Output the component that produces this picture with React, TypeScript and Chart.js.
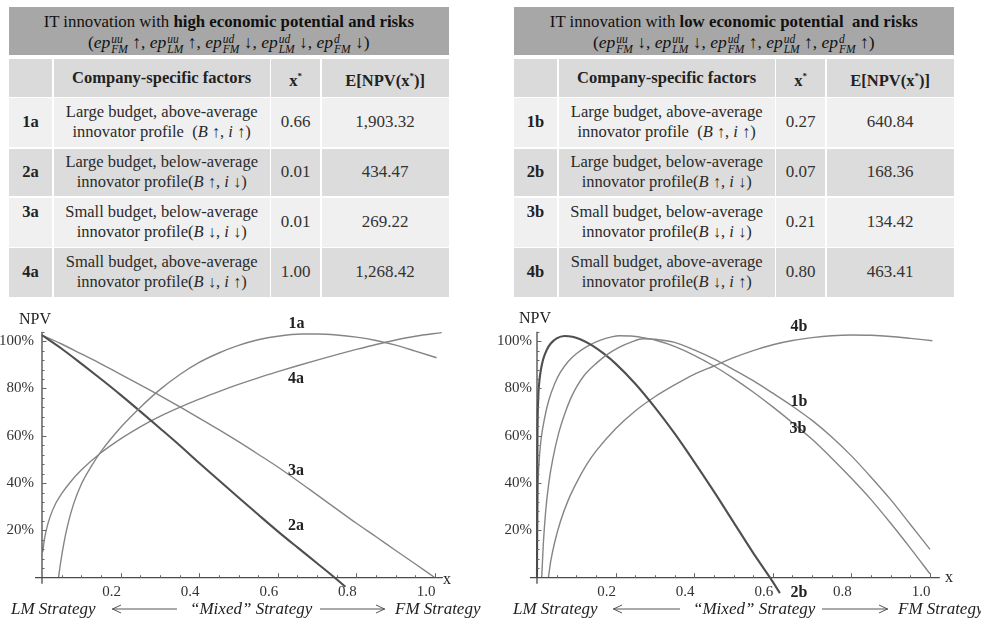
import React, { useEffect, useRef } from "react";
import { Chart, registerables } from "chart.js";
Chart.register(...registerables);

const SERIF = "'Liberation Serif', 'Times New Roman', 'DejaVu Serif', serif";

// ---------------- axis ticks ----------------
const xTickValues = [0.2, 0.4, 0.6, 0.8, 1.0];
const yTickValues = [20, 40, 60, 80, 100];
const xMinorStep = 0.05;
const yMinorStep = 4;

// ---------------- left plot (high potential) ----------------
const x1a = [0.042, 0.047, 0.055, 0.065, 0.08, 0.1, 0.125, 0.15, 0.2, 0.25, 0.3, 0.35, 0.4, 0.45, 0.5, 0.55, 0.6, 0.66, 0.7, 0.75, 0.8, 0.85, 0.9, 0.95, 1.004];
const y1a = [0, 6, 14, 22, 31, 39.5, 47, 53.3, 63.5, 72, 79.5, 85.8, 91, 95, 98.2, 100.6, 102.1, 103, 103, 102.6, 101.7, 100.3, 98.3, 95.8, 93];
const x2a = [0, 0.05, 0.1, 0.15, 0.2, 0.25, 0.3, 0.35, 0.4, 0.45, 0.5, 0.55, 0.6, 0.65, 0.7, 0.745, 0.772];
const y2a = [102.5, 96.8, 90.5, 84, 77.3, 70.3, 63.2, 56, 48.5, 41.2, 33.9, 26.7, 19.6, 12.8, 6.1, 0, -3.8];
const x3a = [0, 0.05, 0.1, 0.15, 0.2, 0.25, 0.3, 0.35, 0.4, 0.45, 0.5, 0.55, 0.6, 0.65, 0.7, 0.75, 0.8, 0.85, 0.9, 0.95, 1.0];
const y3a = [102.5, 98.8, 94.6, 90.4, 86, 81.5, 77, 72.3, 67.5, 62.6, 57.5, 52.2, 46.8, 41, 35, 29, 23, 17.3, 11.5, 5.8, 0];
const x4a = [0.002, 0.005, 0.01, 0.02, 0.035, 0.05, 0.075, 0.1, 0.15, 0.2, 0.25, 0.3, 0.35, 0.4, 0.45, 0.5, 0.55, 0.6, 0.65, 0.7, 0.75, 0.8, 0.85, 0.9, 0.95, 1.017];
const y4a = [11, 15, 19.5, 25.5, 31.5, 35.5, 41, 45.5, 52.8, 58.7, 63.8, 68.2, 72, 75.5, 78.7, 81.7, 84.5, 87.1, 89.6, 92, 94.3, 96.5, 98.6, 100.5, 102.1, 103.6];

// ---------------- right plot (low potential) ----------------
const x1b = [0.012, 0.016, 0.022, 0.03, 0.04, 0.055, 0.07, 0.085, 0.1, 0.12, 0.15, 0.18, 0.21, 0.24, 0.27, 0.3, 0.35, 0.4, 0.45, 0.5, 0.55, 0.6, 0.65, 0.7, 0.75, 0.8, 0.85, 0.9, 0.95, 1.0];
const y1b = [0, 14, 28, 40, 50, 61, 69, 75.5, 80.5, 85.5, 90.5, 94.5, 97.5, 99.6, 101, 100.8, 99.5, 96.3, 92.5, 88, 83.3, 78, 72.5, 66.5, 59.5, 51.5, 42.5, 33, 22.5, 12];
const x2b = [0, 0.001, 0.003, 0.006, 0.01, 0.016, 0.025, 0.035, 0.05, 0.07, 0.09, 0.11, 0.14, 0.17, 0.2, 0.25, 0.3, 0.35, 0.4, 0.45, 0.5, 0.55, 0.593, 0.618];
const y2b = [0, 55, 75, 83, 88, 92.5, 96.4, 99, 101.2, 102.2, 101.9, 100.8, 98.2, 94.7, 90.5, 82, 72, 61, 49, 36.5, 23.5, 10.5, 0, -6.5];
const x3b = [0, 0.002, 0.005, 0.01, 0.02, 0.03, 0.045, 0.06, 0.08, 0.1, 0.13, 0.16, 0.19, 0.21, 0.24, 0.27, 0.3, 0.35, 0.4, 0.45, 0.5, 0.55, 0.6, 0.65, 0.7, 0.75, 0.8, 0.85, 0.9, 0.95, 1.0];
const y3b = [0, 35, 48, 58, 68, 75, 82, 87, 91.5, 94.7, 98, 100.3, 101.8, 102.3, 102.2, 101.5, 100.5, 97.8, 94, 89.5, 84.3, 78.5, 72.2, 65.5, 58.5, 50.5, 42, 33, 23, 12.5, 1.6];
const x4b = [0.029, 0.035, 0.045, 0.06, 0.08, 0.1, 0.125, 0.15, 0.2, 0.25, 0.3, 0.35, 0.4, 0.45, 0.5, 0.55, 0.6, 0.65, 0.7, 0.75, 0.8, 0.85, 0.9, 0.95, 1.006];
const y4b = [0, 7, 15, 24, 33, 40, 47.5, 53.5, 63, 70.5, 76.5, 81.5, 86, 89.5, 93, 96, 98.5, 100.3, 101.5, 102.3, 102.6, 102.5, 102, 101.2, 100.2];

// ---------------- tables ----------------
const leftIds = ["1a", "2a", "3a", "4a"];
const rightIds = ["1b", "2b", "3b", "4b"];
const factorLine1 = [
  "Large budget, above-average",
  "Large budget, below-average",
  "Small budget, below-average",
  "Small budget, above-average",
];
const factorB = ["↑", "↑", "↓", "↓"];
const factorI = ["↑", "↓", "↓", "↑"];
const leftXStar = ["0.66", "0.01", "0.01", "1.00"];
const leftENPV = ["1,903.32", "434.47", "269.22", "1,268.42"];
const rightXStar = ["0.27", "0.07", "0.21", "0.80"];
const rightENPV = ["640.84", "168.36", "134.42", "463.41"];
const leftFormula: [string, string, string][] = [
  ["uu", "FM", "↑"], ["uu", "LM", "↑"], ["ud", "FM", "↓"], ["ud", "LM", "↓"], ["d", "FM", "↓"],
];
const rightFormula: [string, string, string][] = [
  ["uu", "FM", "↓"], ["uu", "LM", "↓"], ["ud", "FM", "↑"], ["ud", "LM", "↑"], ["d", "FM", "↑"],
];

// ---------------- helpers ----------------
function pts(xs: number[], ys: number[]) {
  return xs.map((x, i) => ({ x, y: ys[i] }));
}

const mathAxes = {
  id: "mathAxes",
  afterDatasetsDraw(chart: any) {
    const { ctx, scales } = chart;
    const x = scales.x, y = scales.y;
    const x0 = x.getPixelForValue(0);
    const y0 = y.getPixelForValue(0);
    ctx.save();
    ctx.strokeStyle = "#4a4a4a";
    ctx.lineWidth = 1.3;
    ctx.beginPath();
    ctx.moveTo(x0 - 7, y0);
    ctx.lineTo(x.right, y0);
    ctx.moveTo(x0, y0 + 6);
    ctx.lineTo(x0, y.top);
    ctx.stroke();
    ctx.lineWidth = 1;
    ctx.strokeStyle = "#666";
    ctx.beginPath();
    for (let i = 1; i * xMinorStep <= x.max + 1e-9; i++) {
      const v = i * xMinorStep;
      const major = xTickValues.some((t) => Math.abs(t - v) < 1e-6);
      const px = Math.round(x.getPixelForValue(v)) + 0.5;
      ctx.moveTo(px, y0);
      ctx.lineTo(px, y0 - (major ? 4.5 : 2.5));
    }
    for (let i = 1; i * yMinorStep <= y.max + 1e-9; i++) {
      const v = i * yMinorStep;
      const major = yTickValues.some((t) => Math.abs(t - v) < 1e-6);
      const py = Math.round(y.getPixelForValue(v)) + 0.5;
      ctx.moveTo(x0, py);
      ctx.lineTo(x0 + (major ? 4.5 : 2.5), py);
    }
    ctx.stroke();
    ctx.restore();
  },
};

type Series = { xs: number[]; ys: number[]; dark?: boolean };

function PlotPanel(props: { left: number; width: number; areaLeft: number; xMax: number; labelPad: number; series: Series[] }) {
  const ref = useRef<HTMLCanvasElement>(null);
  useEffect(() => {
    const H = 321;
    const top = 300;
    const axisY = 577.7 - top;
    const areaTop = 331.7 - top;
    const areaRight = props.areaLeft + props.xMax * 393;
    const chart = new Chart(ref.current as HTMLCanvasElement, {
      type: "line",
      data: {
        datasets: props.series.map((s) => ({
          data: pts(s.xs, s.ys),
          borderColor: s.dark ? "#4f4f4f" : "#858585",
          borderWidth: s.dark ? 2.1 : 1.4,
          pointRadius: 0,
          fill: false,
          clip: false as any,
          cubicInterpolationMode: "monotone" as const,
        })),
      },
      options: {
        responsive: false,
        animation: false,
        events: [],
        layout: { padding: { top: areaTop, right: props.width - areaRight, left: 0, bottom: 0 } },
        plugins: { legend: { display: false }, tooltip: { enabled: false } },
        scales: {
          x: {
            type: "linear",
            min: 0,
            max: props.xMax,
            grid: { display: false, drawTicks: false },
            border: { display: false },
            ticks: {
              padding: 5,
              labelOffset: -9,
              maxRotation: 0,
              autoSkip: false,
              color: "#333",
              font: { family: SERIF, size: 15 },
              callback: (v: any) => Number(v).toFixed(1),
            },
            afterBuildTicks: (s: any) => {
              s.ticks = xTickValues.map((v) => ({ value: v }));
            },
            afterFit: (s: any) => {
              s.height = H - axisY;
            },
          },
          y: {
            type: "linear",
            min: 0,
            max: 104,
            grid: { display: false, drawTicks: false },
            border: { display: false },
            ticks: {
              padding: props.labelPad,
              autoSkip: false,
              color: "#333",
              font: { family: SERIF, size: 15 },
              callback: (v: any) => v + "%",
            },
            afterBuildTicks: (s: any) => {
              s.ticks = yTickValues.map((v) => ({ value: v }));
            },
            afterFit: (s: any) => {
              s.width = props.areaLeft;
            },
          },
        },
      },
      plugins: [mathAxes],
    });
    return () => chart.destroy();
  }, []);
  return (
    <canvas
      ref={ref}
      width={props.width}
      height={321}
      style={{ position: "absolute", left: props.left, top: 300, width: props.width, height: 321 }}
    />
  );
}

function Ep({ sup, sub }: { sup: string; sub: string }) {
  return (
    <span>
      <span style={{ fontStyle: "italic" }}>ep</span>
      <span
        style={{
          display: "inline-flex",
          flexDirection: "column",
          verticalAlign: "5px",
          fontSize: 11.5,
          lineHeight: "10px",
          fontStyle: "italic",
          marginLeft: 1,
          textAlign: "left",
        }}
      >
        <span>{sup}</span>
        <span>{sub}</span>
      </span>
    </span>
  );
}

const colW = [43, 216, 48.5, 127];
const GAP = 1.7;
const rowTops = [59.3, 98.3, 148.8, 198.3, 248.3];
const rowH = [37.4, 48.4, 47.4, 48.4, 48.4];
const rowBg = ["#dadada", "#f0f0f0", "#dcdcdc", "#f0f0f0", "#dcdcdc"];

function DataTable(props: {
  left: number;
  boldTitle: string;
  formula: [string, string, string][];
  ids: string[];
  xs: string[];
  enpv: string[];
}) {
  const total = colW.reduce((a, b) => a + b, 0) + GAP * 3;
  const colLeft = colW.map((_, i) => colW.slice(0, i).reduce((a, b) => a + b, 0) + GAP * i);
  const cell = (r: number, c: number, content: React.ReactNode, extra: React.CSSProperties = {}) => (
    <div
      key={r + "-" + c}
      style={{
        position: "absolute",
        left: props.left + colLeft[c],
        top: rowTops[r],
        width: colW[c],
        height: rowH[r],
        background: rowBg[r],
        display: "flex",
        alignItems: "center",
        justifyContent: "center",
        textAlign: "center",
        fontSize: 16.5,
        lineHeight: "20px",
        color: "#222",
        ...extra,
      }}
    >
      {content}
    </div>
  );
  const cells: React.ReactNode[] = [];
  cells.push(cell(0, 0, ""));
  cells.push(cell(0, 1, <b>Company-specific factors</b>));
  cells.push(
    cell(
      0,
      2,
      <b>
        x<sup style={{ fontSize: 9 }}>*</sup>
      </b>
    )
  );
  cells.push(
    cell(
      0,
      3,
      <b>
        E[NPV(x<sup style={{ fontSize: 9 }}>*</sup>)]
      </b>
    )
  );
  for (let i = 0; i < 4; i++) {
    const r = i + 1;
    cells.push(
      cell(r, 0, <b>{props.ids[i]}</b>, i === 2 ? { alignItems: "flex-start", paddingTop: 4, boxSizing: "border-box" } : {})
    );
    cells.push(
      cell(
        r,
        1,
        <div>
          <div>{factorLine1[i]}</div>
          <div>
            innovator profile{i === 0 ? "\u00a0 (" : "("}
            <i>B</i> {factorB[i]}, <i>i</i> {factorI[i]})
          </div>
        </div>,
        { color: "#2a2a2a" }
      )
    );
    cells.push(cell(r, 2, props.xs[i], { color: "#333", fontSize: 17 }));
    cells.push(cell(r, 3, props.enpv[i], { color: "#333", fontSize: 17 }));
  }
  return (
    <>
      <div
        style={{
          position: "absolute",
          left: props.left,
          top: 6.7,
          width: total,
          height: 48.3,
          background: "#a7a7a7",
          color: "#111",
          textAlign: "center",
          fontSize: 16.8,
        }}
      >
        <div style={{ position: "absolute", left: 0, right: 0, top: 5, lineHeight: "20px", whiteSpace: "pre" }}>
          IT innovation with <b>{props.boldTitle}</b>
        </div>
        <div style={{ position: "absolute", left: 0, right: 0, top: 25, lineHeight: "20px", whiteSpace: "nowrap", fontSize: 17.5 }}>
          (
          {props.formula.map((f, k) => (
            <span key={k}>
              <Ep sup={f[0]} sub={f[1]} /> {f[2]}
              {k < props.formula.length - 1 ? ", " : ""}
            </span>
          ))}
          )
        </div>
      </div>
      {cells}
    </>
  );
}

function Txt(props: { x: number; y: number; children: React.ReactNode; bold?: boolean; italic?: boolean; size?: number; anchor?: "center" | "left" }) {
  const size = props.size ?? 16;
  return (
    <div
      style={{
        position: "absolute",
        left: props.x,
        top: props.y,
        transform: props.anchor === "left" ? "translate(0,-50%)" : "translate(-50%,-50%)",
        fontSize: size,
        lineHeight: size + 4 + "px",
        fontWeight: props.bold ? "bold" : "normal",
        fontStyle: props.italic ? "italic" : "normal",
        whiteSpace: "pre",
        color: "#222",
      }}
    >
      {props.children}
    </div>
  );
}

function Arrow(props: { x1: number; x2: number; y: number; dir: "left" | "right" }) {
  const w = props.x2 - props.x1;
  const tip = props.dir === "left" ? 0.5 : w - 0.5;
  const back = props.dir === "left" ? 9 : w - 9;
  return (
    <svg style={{ position: "absolute", left: props.x1, top: props.y - 6 }} width={w} height={12}>
      <line x1={0} y1={6} x2={w} y2={6} stroke="#555" strokeWidth={1} />
      <line x1={tip} y1={6} x2={back} y2={2} stroke="#555" strokeWidth={1} />
      <line x1={tip} y1={6} x2={back} y2={10} stroke="#555" strokeWidth={1} />
    </svg>
  );
}

function StrategyRow(props: { lm: number; a1: [number, number]; mixed: number; a2: [number, number]; fm: number }) {
  const y = 608;
  return (
    <>
      <Txt x={props.lm} y={y} italic size={17} anchor="left">LM Strategy</Txt>
      <Arrow x1={props.a1[0]} x2={props.a1[1]} y={y + 1} dir="left" />
      <Txt x={props.mixed} y={y} italic size={17} anchor="left">{"\u201cMixed\u201d Strategy"}</Txt>
      <Arrow x1={props.a2[0]} x2={props.a2[1]} y={y + 1} dir="right" />
      <Txt x={props.fm} y={y} italic size={17} anchor="left">FM Strategy</Txt>
    </>
  );
}

export default function App() {
  return (
    <div
      style={{
        position: "absolute",
        left: 0,
        top: 0,
        width: 981,
        height: 621,
        background: "#fff",
        overflow: "hidden",
        fontFamily: SERIF,
      }}
    >
      <DataTable left={9} boldTitle="high economic potential and risks" formula={leftFormula} ids={leftIds} xs={leftXStar} enpv={leftENPV} />
      <DataTable left={514} boldTitle={"low economic potential  and risks"} formula={rightFormula} ids={rightIds} xs={rightXStar} enpv={rightENPV} />

      <PlotPanel
        left={0}
        width={490}
        areaLeft={42}
        xMax={1.02}
        labelPad={8}
        series={[
          { xs: x1a, ys: y1a },
          { xs: x2a, ys: y2a, dark: true },
          { xs: x3a, ys: y3a },
          { xs: x4a, ys: y4a },
        ]}
      />
      <PlotPanel
        left={490}
        width={491}
        areaLeft={47}
        xMax={1.025}
        labelPad={5}
        series={[
          { xs: x1b, ys: y1b },
          { xs: x2b, ys: y2b, dark: true },
          { xs: x3b, ys: y3b },
          { xs: x4b, ys: y4b },
        ]}
      />

      <Txt x={35} y={319}>NPV</Txt>
      <Txt x={535} y={318}>NPV</Txt>
      <Txt x={447} y={579}>x</Txt>
      <Txt x={949} y={577}>x</Txt>

      <Txt x={296.5} y={322.7} bold>1a</Txt>
      <Txt x={296} y={378} bold>4a</Txt>
      <Txt x={296} y={470} bold>3a</Txt>
      <Txt x={296} y={525} bold>2a</Txt>
      <Txt x={799} y={326} bold>4b</Txt>
      <Txt x={799} y={401} bold>1b</Txt>
      <Txt x={798} y={428} bold>3b</Txt>
      <Txt x={799} y={592} bold>2b</Txt>

      <StrategyRow lm={11} a1={[112, 177]} mixed={190} a2={[320, 385]} fm={395} />
      <StrategyRow lm={513} a1={[613, 680]} mixed={693} a2={[822, 888]} fm={898} />
    </div>
  );
}
